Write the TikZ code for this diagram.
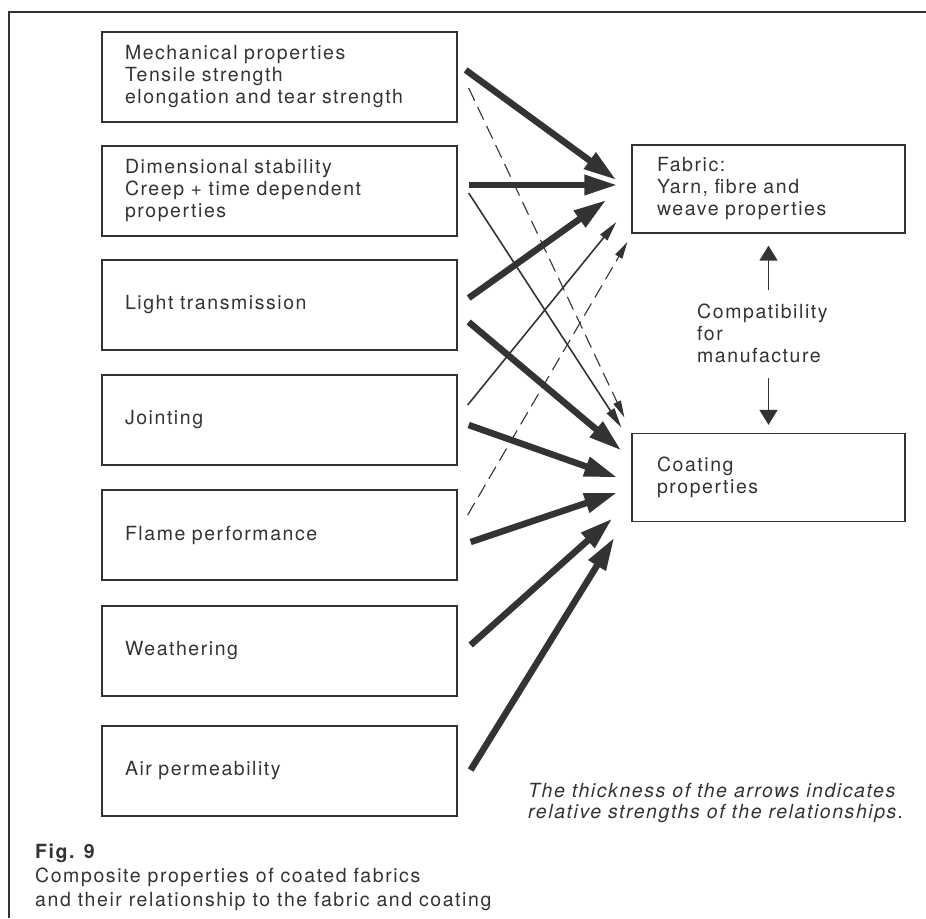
\documentclass[tikz,border=0pt]{standalone}
\usepackage{fontspec}
\setmainfont{TeX Gyre Heros}[LetterSpace=8]
\usetikzlibrary{arrows.meta}
\definecolor{ink}{gray}{0.2}

\begin{document}
\begin{tikzpicture}[x=1pt, y=-1pt,
	prop/.style={draw=ink, line width=1.3pt, minimum height=90pt, text width=309pt, inner xsep=23pt,
	align=left, text=ink, font=\fontsize{19.5}{22}\selectfont},
	part/.style={prop, text width=223pt, inner xsep=25pt, minimum height=88pt},
	label/.style={inner sep=0pt, align=left, text=ink, font=\fontsize{19.5}{22}\selectfont},
	strong/.style={draw=ink, line width=6.5pt, -{Triangle[length=33pt,width=19pt]}},
	weak/.style={draw=ink, line width=1.6pt, -{Triangle[length=20pt,width=9pt]}},
	faint/.style={draw=ink, line width=1.1pt, dash pattern=on 14pt off 7pt, -{Triangle[length=17pt,width=8pt]}},
	mutual/.style={draw=ink, line width=1.6pt, -{Triangle[length=15pt,width=18pt]}}]
\useasboundingbox (0,0) rectangle (926,918);
\draw[ink, line width=1.3pt] (9,918) -- (9,12) -- (926,12);
% properties of the composite
\node [prop] (mech) at (279.5,77) {Mechanical properties\\Tensile strength\\elongation and tear strength};
\node [prop] (dim) at (279.5,191) {Dimensional stability\\Creep + time dependent\\properties};
\node [prop] (light) at (279.5,305) {Light transmission};
\node [prop] (joint) at (279.5,420) {Jointing};
\node [prop] (flame) at (279.5,535) {Flame performance};
\node [prop] (weather) at (279.5,651) {Weathering};
\node [prop] (air) at (279.5,771) {Air permeability};
% components
\node [part] (fabric) at (768.5,189) {Fabric:\\Yarn, fibre and\\weave properties};
\node [part] (coat) at (768.5,477.5) {Coating\\properties};
\node [label, anchor=west] (compat) at (697,333) {Compatibility\\for\\manufacture};
\draw[mutual, shorten <=13pt, shorten >=12pt] (compat.north -| fabric.south) -- (fabric.south);
\draw[mutual, shorten <=15pt, shorten >=8pt] (compat.south -| coat.north) -- (coat.north);
% relationships
\draw[strong] ([shift={(8,-7)}]mech.east) -- ([shift={(-15,-9)}]fabric.west);
\draw[faint] ([shift={(11,11)}]mech.east) -- ([shift={(-7,-60)}]coat.west);
\draw[strong] ([shift={(11,-6)}]dim.east) -- ([shift={(-14,-4)}]fabric.west);
\draw[weak] ([shift={(11,2)}]dim.east) -- ([shift={(-10,-50)}]coat.west);
\draw[strong] ([shift={(11,-7)}]light.east) -- ([shift={(-25,11)}]fabric.west);
\draw[strong] ([shift={(11,17)}]light.east) -- ([shift={(-10,-27)}]coat.west);
\draw[weak] ([shift={(10,-15)}]joint.east) -- ([shift={(-15,33)}]fabric.west);
\draw[strong] ([shift={(11,5)}]joint.east) -- ([shift={(-14,0)}]coat.west);
\draw[faint] ([shift={(10,-20)}]flame.east) -- ([shift={(-4,53)}]fabric.west);
\draw[strong] ([shift={(13,7)}]flame.east) -- ([shift={(-14,15)}]coat.west);
\draw[strong] ([shift={(13,-6)}]weather.east) -- ([shift={(-19,41)}]coat.west);
\draw[strong] ([shift={(13,-1)}]air.east) -- ([shift={(-17,60)}]coat.west);
% captions
\node [label, anchor=north west, font=\fontsize{19.5}{21}\itshape] (note) at (528,783)
	{The thickness of the arrows indicates\\relative strengths of the relationships.};
\node [label, anchor=north west, font=\fontsize{19.5}{24}\selectfont] (fig) at (35,844)
	{\textbf{Fig. 9}\\Composite properties of coated fabrics\\and their relationship to the fabric and coating};
\end{tikzpicture}
\end{document}
